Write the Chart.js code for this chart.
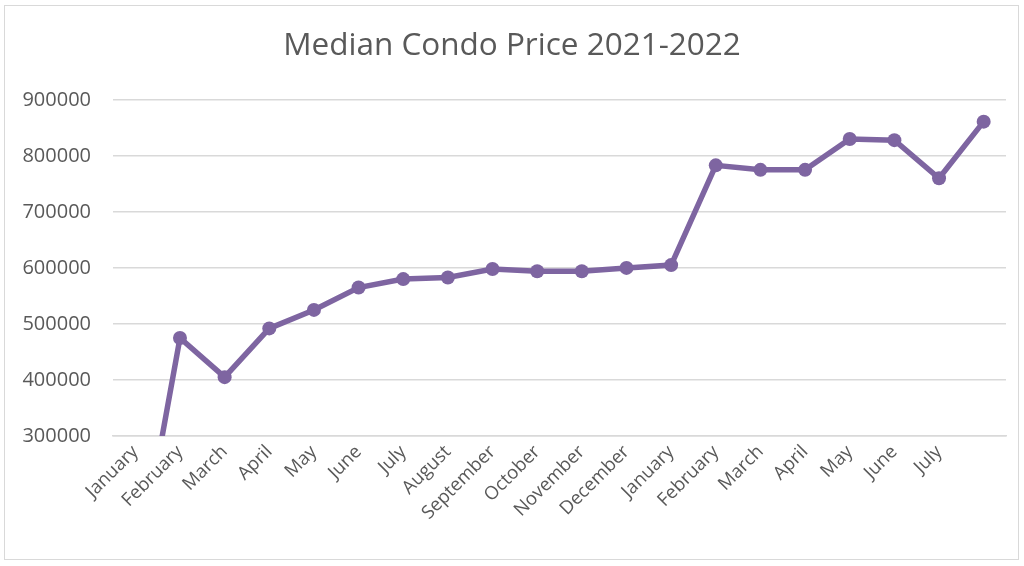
<!DOCTYPE html>
<html>
<head>
<meta charset="utf-8">
<script src="https://cdn.jsdelivr.net/npm/chart.js@4/dist/chart.umd.min.js"></script>
<style>
  html, body { margin: 0; padding: 0; background: #ffffff; }
  #wrap { position: relative; width: 1024px; height: 566px; }
  #frame {
    position: absolute; left: 4px; top: 5px; width: 1013px; height: 553px;
    border: 1.5px solid #d9d9d9; pointer-events: none;
  }
</style>
</head>
<body>
<div id="wrap">
  <canvas id="condoChart" width="1024" height="566"></canvas>
  <div id="frame"></div>
</div>
<script>
const months = [
    'January', 'February', 'March', 'April', 'May', 'June', 'July', 'August',
    'September', 'October', 'November', 'December',
    'January', 'February', 'March', 'April', 'May', 'June', 'July', ''
];
const medianPrice = [
    35000, 475000, 405000, 492000, 525000, 565000, 580000, 583000,
    598000, 594000, 594000, 600000,
    605000, 783000, 775000, 775000, 830000, 828000, 760000, 861000
];
const yTicks = [300000, 400000, 500000, 600000, 700000, 800000, 900000];

document.addEventListener("DOMContentLoaded", () => {
    const textColor = '#595959';
    const gridColor = '#d9d9d9';
    const purple = '#7e65a1';

    new Chart(document.getElementById('condoChart'), {
        type: 'line',
        data: {
            labels: months,
            datasets: [{
                label: 'Median Condo Price',
                data: medianPrice,
                borderColor: purple,
                backgroundColor: purple,
                borderWidth: 5.5,
                pointRadius: 7,
                pointHoverRadius: 7,
                pointBackgroundColor: purple,
                pointBorderWidth: 0,
                tension: 0,
                fill: false
            }]
        },
        options: {
            responsive: false,
            animation: false,
            // equal side padding keeps the title centred on the page
            layout: { padding: { left: 18, right: 18, top: 0, bottom: 0 } },
            plugins: {
                legend: { display: false },
                tooltip: { enabled: false },
                title: {
                    display: true,
                    text: 'Median Condo Price 2021-2022',
                    color: textColor,
                    font: { family: 'Open Sans', size: 31.5, weight: 'normal', lineHeight: 1.2 },
                    padding: { top: 27, bottom: 35 }
                }
            },
            scales: {
                x: {
                    offset: true,
                    grid: { display: false, drawTicks: false },
                    border: { display: true, color: gridColor, width: 1.5 },
                    ticks: {
                        color: textColor,
                        font: { family: 'Open Sans', size: 18.5 },
                        maxRotation: 45,
                        minRotation: 45,
                        autoSkip: false,
                        padding: 5
                    },
                    afterFit: scale => { scale.height = 130; }
                },
                y: {
                    min: 300000,
                    max: 900000,
                    afterBuildTicks: scale => {
                        scale.ticks = yTicks.map(v => ({ value: v }));
                    },
                    grid: { color: gridColor, lineWidth: 1.5, drawTicks: false },
                    border: { display: false },
                    ticks: {
                        color: textColor,
                        font: { family: 'Open Sans', size: 20 },
                        padding: 22,
                        callback: value => String(value)
                    },
                    afterFit: scale => { scale.width = 95; }
                }
            }
        }
    });
});
</script>
</body>
</html>
